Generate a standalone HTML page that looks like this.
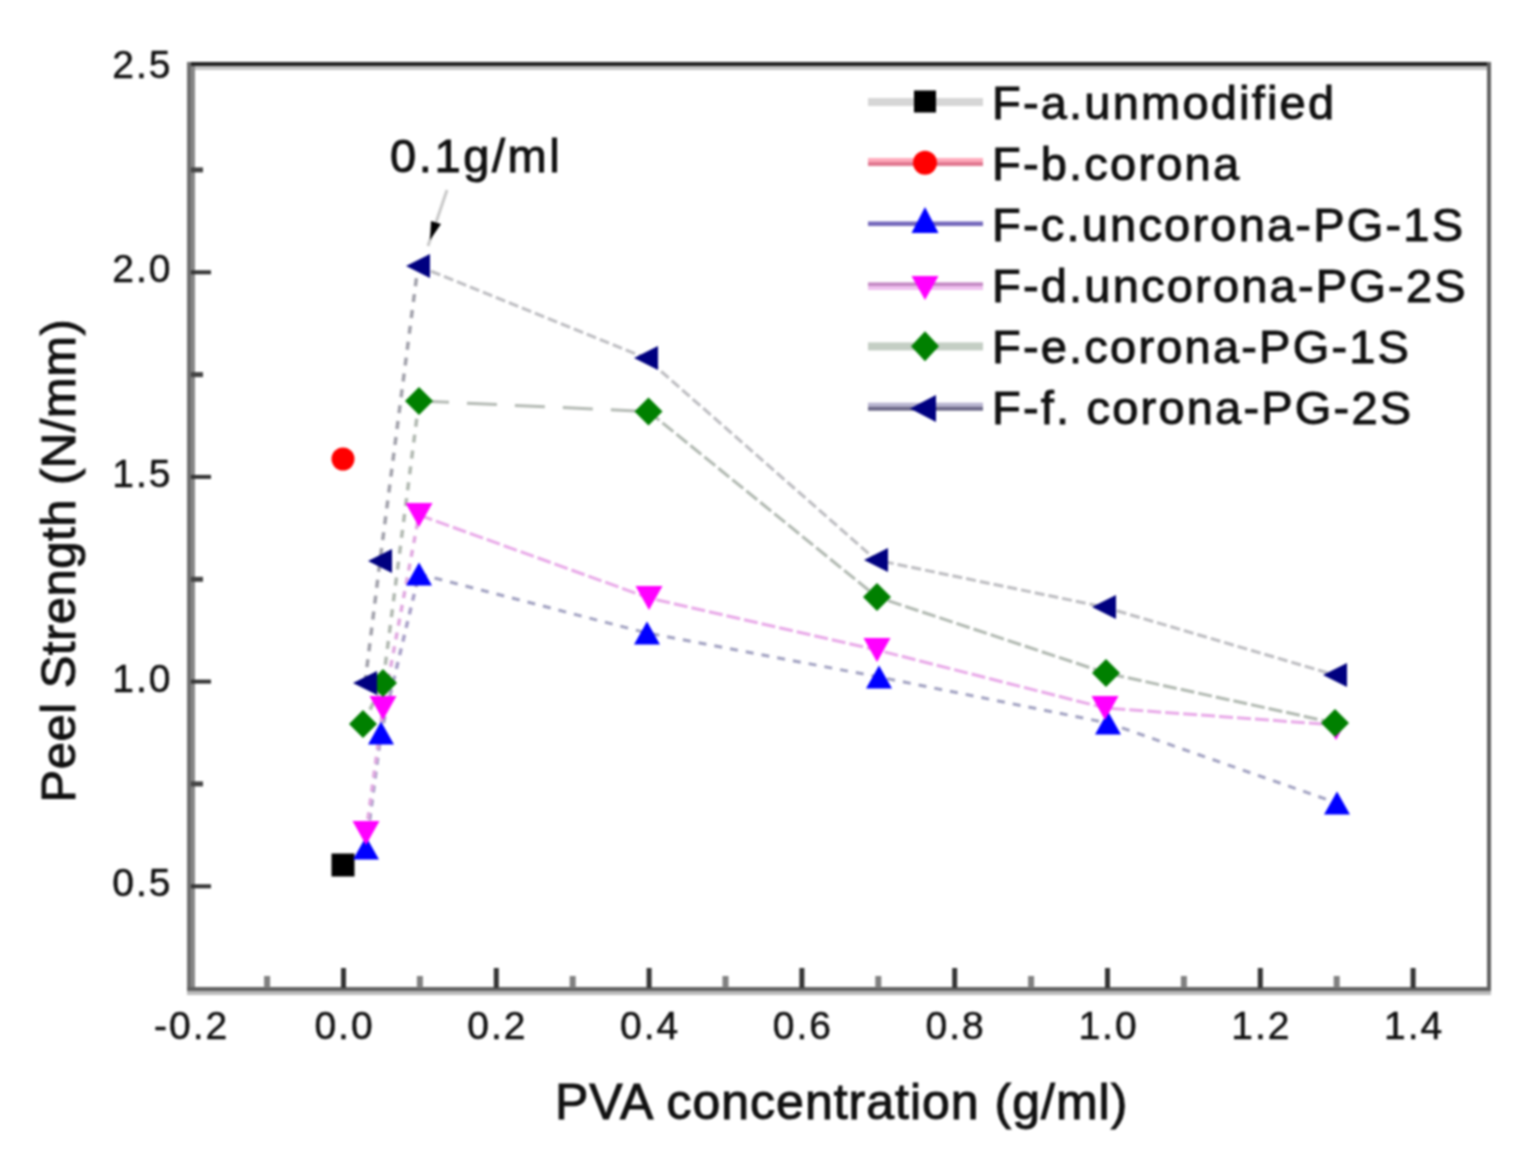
<!DOCTYPE html>
<html><head><meta charset="utf-8"><title>Peel Strength vs PVA concentration</title>
<style>html,body{margin:0;padding:0;background:#fff;width:1527px;height:1169px;overflow:hidden}svg{display:block;filter:blur(1.2px)}</style>
</head><body>
<svg width="1527" height="1169" viewBox="0 0 1527 1169"><rect x="0" y="0" width="1527" height="1169" fill="#fff"/>
<polyline points="366,848 381,733 419,574" fill="none" stroke="#a8a0c8" stroke-width="3.5" stroke-dasharray="7 7"/>
<polyline points="419,574 647,633 879,677 1108,723 1337,803" fill="none" stroke="#a0a0c0" stroke-width="3" stroke-dasharray="8 8"/>
<polyline points="366,833 383,708 419,515" fill="none" stroke="#e0a8e0" stroke-width="3.5" stroke-dasharray="7 7"/>
<polyline points="419,515 649,598 877,650 1105,708 1336,725" fill="none" stroke="#e8a8e8" stroke-width="3" stroke-dasharray="14 4"/>
<polyline points="363,724 383,683 419,401" fill="none" stroke="#b0b8b0" stroke-width="3.5" stroke-dasharray="8 8"/>
<polyline points="419,401 648.5,411.5" fill="none" stroke="#b4bab4" stroke-width="3" stroke-dasharray="30 18"/>
<polyline points="648.5,411.5 877,597 1106,673 1335,723" fill="none" stroke="#b0b8b0" stroke-width="3" stroke-dasharray="14 4"/>
<polyline points="365,683 380,561 418,266" fill="none" stroke="#a0a0aa" stroke-width="3.5" stroke-dasharray="8 8"/>
<polyline points="418,266 646,358 876,560 1104,607 1335,675" fill="none" stroke="#bcbcc0" stroke-width="3" stroke-dasharray="10 4"/>
<rect x="331.5" y="853.5" width="23" height="23" fill="#000"/>
<circle cx="343" cy="459" r="11.5" fill="#ff0000"/>
<polygon points="366,836.5 379.0,859.5 353.0,859.5" fill="#0000ff"/>
<polygon points="381,721.5 394.0,744.5 368.0,744.5" fill="#0000ff"/>
<polygon points="419,562.5 432.0,585.5 406.0,585.5" fill="#0000ff"/>
<polygon points="647,621.5 660.0,644.5 634.0,644.5" fill="#0000ff"/>
<polygon points="879,665.5 892.0,688.5 866.0,688.5" fill="#0000ff"/>
<polygon points="1108,711.5 1121.0,734.5 1095.0,734.5" fill="#0000ff"/>
<polygon points="1337,791.5 1350.0,814.5 1324.0,814.5" fill="#0000ff"/>
<polygon points="352.5,821.0 379.5,821.0 366,845.0" fill="#ff00ff"/>
<polygon points="369.5,696.0 396.5,696.0 383,720.0" fill="#ff00ff"/>
<polygon points="405.5,503.0 432.5,503.0 419,527.0" fill="#ff00ff"/>
<polygon points="635.5,586.0 662.5,586.0 649,610.0" fill="#ff00ff"/>
<polygon points="863.5,638.0 890.5,638.0 877,662.0" fill="#ff00ff"/>
<polygon points="1091.5,696.0 1118.5,696.0 1105,720.0" fill="#ff00ff"/>
<polygon points="1326.0,722.0 1346.0,722.0 1336,740.0" fill="#ff00ff"/>
<polygon points="363,710.0 377.0,724 363,738.0 349.0,724" fill="#008000"/>
<polygon points="383,669.0 397.0,683 383,697.0 369.0,683" fill="#008000"/>
<polygon points="419,387.0 433.0,401 419,415.0 405.0,401" fill="#008000"/>
<polygon points="648.5,397.5 662.5,411.5 648.5,425.5 634.5,411.5" fill="#008000"/>
<polygon points="877,583.0 891.0,597 877,611.0 863.0,597" fill="#008000"/>
<polygon points="1106,659.0 1120.0,673 1106,687.0 1092.0,673" fill="#008000"/>
<polygon points="1335,709.0 1349.0,723 1335,737.0 1321.0,723" fill="#008000"/>
<polygon points="353.0,683 377.0,671.0 377.0,695.0" fill="#000080"/>
<polygon points="368.0,561 392.0,549.0 392.0,573.0" fill="#000080"/>
<polygon points="406.0,266 430.0,254.0 430.0,278.0" fill="#000080"/>
<polygon points="634.0,358 658.0,346.0 658.0,370.0" fill="#000080"/>
<polygon points="864.0,560 888.0,548.0 888.0,572.0" fill="#000080"/>
<polygon points="1092.0,607 1116.0,595.0 1116.0,619.0" fill="#000080"/>
<polygon points="1323.0,675 1347.0,663.0 1347.0,687.0" fill="#000080"/>
<rect x="187" y="62" width="1304" height="4" fill="#222"/>
<rect x="191" y="66" width="1296" height="4" fill="#c4c4c4"/>
<rect x="187" y="62" width="4" height="929" fill="#6f6f6f"/>
<rect x="191" y="66" width="4" height="921" fill="#888"/>
<rect x="1487" y="62" width="4" height="929" fill="#606060"/>
<rect x="187" y="987" width="1304" height="4" fill="#626262"/>
<rect x="187" y="991" width="1304" height="4" fill="#bbb"/>
<rect x="191" y="270.3" width="20" height="4" fill="#333"/>
<rect x="191" y="474.9" width="20" height="4" fill="#333"/>
<rect x="191" y="679.6" width="20" height="4" fill="#333"/>
<rect x="191" y="884.3" width="20" height="4" fill="#333"/>
<rect x="191" y="167.4" width="12" height="5" fill="#444"/>
<rect x="191" y="372.1" width="12" height="5" fill="#444"/>
<rect x="191" y="576.8" width="12" height="5" fill="#444"/>
<rect x="191" y="781.4" width="12" height="5" fill="#444"/>
<rect x="341.0" y="968" width="5" height="20" fill="#333"/>
<rect x="493.8" y="968" width="5" height="20" fill="#333"/>
<rect x="646.6" y="968" width="5" height="20" fill="#333"/>
<rect x="799.4" y="968" width="5" height="20" fill="#333"/>
<rect x="952.2" y="968" width="5" height="20" fill="#333"/>
<rect x="1105.0" y="968" width="5" height="20" fill="#333"/>
<rect x="1257.8" y="968" width="5" height="20" fill="#333"/>
<rect x="1410.6" y="968" width="5" height="20" fill="#333"/>
<rect x="264.1" y="976" width="6" height="12" fill="#808080"/>
<rect x="416.9" y="976" width="6" height="12" fill="#808080"/>
<rect x="569.7" y="976" width="6" height="12" fill="#808080"/>
<rect x="722.5" y="976" width="6" height="12" fill="#808080"/>
<rect x="875.3" y="976" width="6" height="12" fill="#808080"/>
<rect x="1028.1" y="976" width="6" height="12" fill="#808080"/>
<rect x="1180.9" y="976" width="6" height="12" fill="#808080"/>
<rect x="1333.7" y="976" width="6" height="12" fill="#808080"/>
<text x="172.5" y="77.6" font-family="'Liberation Sans', Arial, sans-serif" stroke="#111" stroke-width="0.5" font-size="39" letter-spacing="2" text-anchor="end" fill="#111">2.5</text>
<text x="172.5" y="282.3" font-family="'Liberation Sans', Arial, sans-serif" stroke="#111" stroke-width="0.5" font-size="39" letter-spacing="2" text-anchor="end" fill="#111">2.0</text>
<text x="172.5" y="486.9" font-family="'Liberation Sans', Arial, sans-serif" stroke="#111" stroke-width="0.5" font-size="39" letter-spacing="2" text-anchor="end" fill="#111">1.5</text>
<text x="172.5" y="691.6" font-family="'Liberation Sans', Arial, sans-serif" stroke="#111" stroke-width="0.5" font-size="39" letter-spacing="2" text-anchor="end" fill="#111">1.0</text>
<text x="172.5" y="896.3" font-family="'Liberation Sans', Arial, sans-serif" stroke="#111" stroke-width="0.5" font-size="39" letter-spacing="2" text-anchor="end" fill="#111">0.5</text>
<text x="191.7" y="1039" font-family="'Liberation Sans', Arial, sans-serif" stroke="#111" stroke-width="0.5" font-size="39" letter-spacing="2" text-anchor="middle" fill="#111">-0.2</text>
<text x="344.5" y="1039" font-family="'Liberation Sans', Arial, sans-serif" stroke="#111" stroke-width="0.5" font-size="39" letter-spacing="2" text-anchor="middle" fill="#111">0.0</text>
<text x="497.3" y="1039" font-family="'Liberation Sans', Arial, sans-serif" stroke="#111" stroke-width="0.5" font-size="39" letter-spacing="2" text-anchor="middle" fill="#111">0.2</text>
<text x="650.1" y="1039" font-family="'Liberation Sans', Arial, sans-serif" stroke="#111" stroke-width="0.5" font-size="39" letter-spacing="2" text-anchor="middle" fill="#111">0.4</text>
<text x="802.9" y="1039" font-family="'Liberation Sans', Arial, sans-serif" stroke="#111" stroke-width="0.5" font-size="39" letter-spacing="2" text-anchor="middle" fill="#111">0.6</text>
<text x="955.7" y="1039" font-family="'Liberation Sans', Arial, sans-serif" stroke="#111" stroke-width="0.5" font-size="39" letter-spacing="2" text-anchor="middle" fill="#111">0.8</text>
<text x="1108.5" y="1039" font-family="'Liberation Sans', Arial, sans-serif" stroke="#111" stroke-width="0.5" font-size="39" letter-spacing="2" text-anchor="middle" fill="#111">1.0</text>
<text x="1261.3" y="1039" font-family="'Liberation Sans', Arial, sans-serif" stroke="#111" stroke-width="0.5" font-size="39" letter-spacing="2" text-anchor="middle" fill="#111">1.2</text>
<text x="1414.1" y="1039" font-family="'Liberation Sans', Arial, sans-serif" stroke="#111" stroke-width="0.5" font-size="39" letter-spacing="2" text-anchor="middle" fill="#111">1.4</text>
<text x="555" y="1119" font-family="'Liberation Sans', Arial, sans-serif" stroke="#111" stroke-width="1.0" font-size="50" letter-spacing="1.0" fill="#111">PVA concentration (g/ml)</text>
<text transform="translate(75,802.5) rotate(-90)" x="0" y="0" font-family="'Liberation Sans', Arial, sans-serif" stroke="#111" stroke-width="1.0" font-size="49" letter-spacing="0.5" fill="#111">Peel Strength (N/mm)</text>
<text x="390" y="172" font-family="'Liberation Sans', Arial, sans-serif" stroke="#111" stroke-width="1.0" font-size="47" letter-spacing="2.6" fill="#111">0.1g/ml</text>
<line x1="447" y1="190" x2="428" y2="246" stroke="#c8c8c8" stroke-width="3"/>
<polygon points="430,240 431,221 441,224" fill="#000"/>
<rect x="868" y="98" width="115" height="8" fill="#d6d6d6"/>
<rect x="914.0" y="90.5" width="22" height="22" fill="#000"/>
<text x="992" y="119.0" font-family="'Liberation Sans', Arial, sans-serif" stroke="#111" stroke-width="1.0" font-size="47" letter-spacing="2.2" fill="#111">F-a.unmodified</text>
<rect x="868" y="158" width="115" height="4" fill="#ffaabb"/>
<rect x="868" y="162" width="115" height="4" fill="#e07890"/>
<circle cx="925" cy="162.7" r="12" fill="#ff0000"/>
<text x="992" y="180.0" font-family="'Liberation Sans', Arial, sans-serif" stroke="#111" stroke-width="1.0" font-size="47" letter-spacing="2.2" fill="#111">F-b.corona</text>
<rect x="868" y="221.5" width="115" height="4.5" fill="#7468bb"/>
<polygon points="925,206.9 938.5,232.9 911.5,232.9" fill="#0000ff"/>
<text x="992" y="241.0" font-family="'Liberation Sans', Arial, sans-serif" stroke="#111" stroke-width="1.0" font-size="47" letter-spacing="2.2" fill="#111">F-c.uncorona-PG-1S</text>
<rect x="868" y="282.4" width="115" height="4" fill="#c488c4"/>
<rect x="868" y="286.4" width="115" height="3.6" fill="#f0c0f0"/>
<polygon points="911.5,276.1 938.5,276.1 925,300.1" fill="#ff00ff"/>
<text x="992" y="302.0" font-family="'Liberation Sans', Arial, sans-serif" stroke="#111" stroke-width="1.0" font-size="47" letter-spacing="2.2" fill="#111">F-d.uncorona-PG-2S</text>
<rect x="868" y="342.4" width="115" height="8" fill="#c4cec4"/>
<polygon points="925,331.3 939.0,346.3 925,361.3 911.0,346.3" fill="#008000"/>
<text x="992" y="363.0" font-family="'Liberation Sans', Arial, sans-serif" stroke="#111" stroke-width="1.0" font-size="47" letter-spacing="2.2" fill="#111">F-e.corona-PG-1S</text>
<rect x="868" y="402.7" width="115" height="4" fill="#b8b4d0"/>
<rect x="868" y="406.7" width="115" height="4" fill="#6c6888"/>
<polygon points="910.0,408.5 936.0,395.0 936.0,422.0" fill="#000080"/>
<text x="992" y="424.0" font-family="'Liberation Sans', Arial, sans-serif" stroke="#111" stroke-width="1.0" font-size="47" letter-spacing="2.2" fill="#111">F-f. corona-PG-2S</text></svg>
</body></html>
